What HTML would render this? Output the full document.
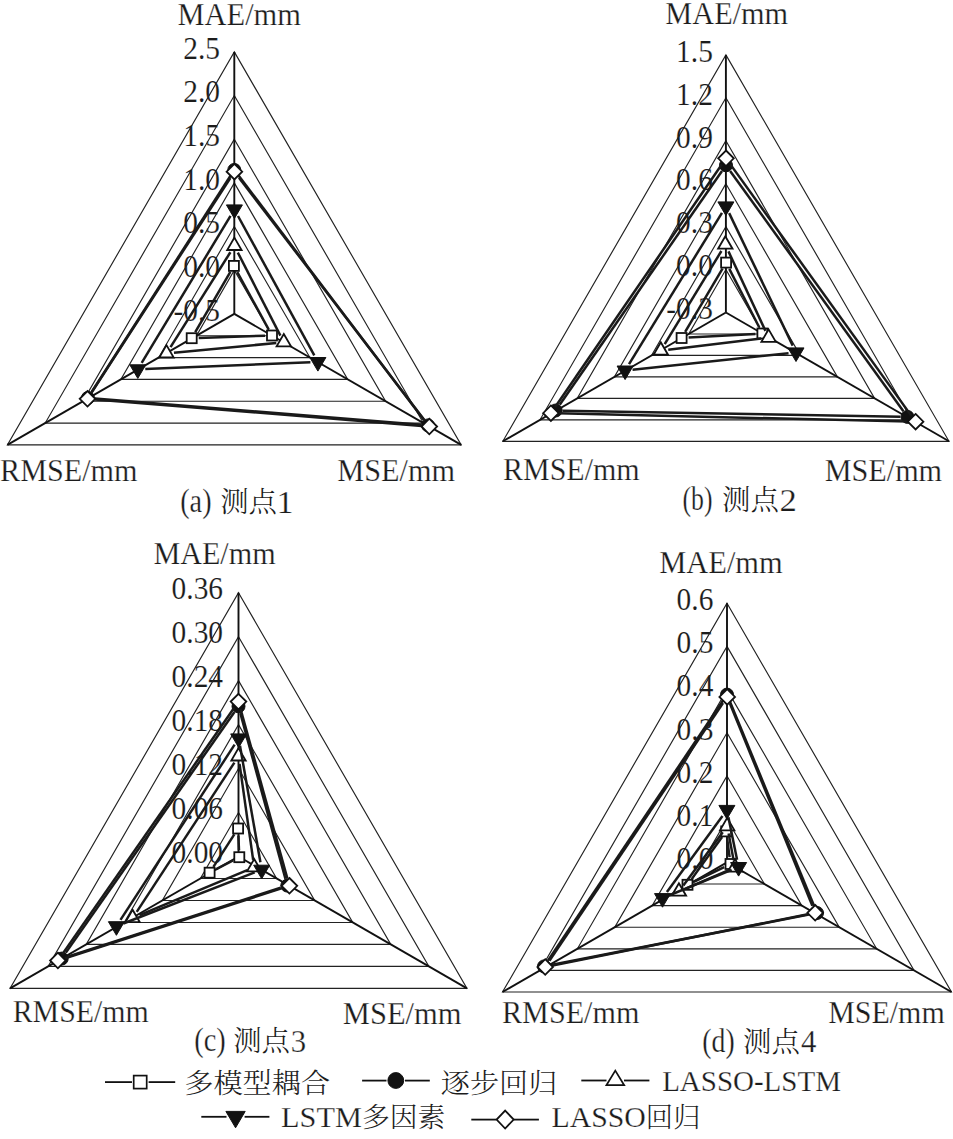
<!DOCTYPE html>
<html><head><meta charset="utf-8"><style>
html,body{margin:0;padding:0;background:#fff;}
body{width:953px;height:1139px;overflow:hidden;}
svg{display:block;}
text{fill:#1c1c1c;stroke:#fff;stroke-width:0.25px;}
.grid{fill:none;stroke:#222;stroke-width:1.15;stroke-linejoin:miter;}
.spoke{stroke:#111;stroke-width:1.9;}
.ser{fill:none;stroke:#1a1a1a;stroke-width:2.5;stroke-linecap:butt;}
.lser{stroke:#111;stroke-width:1.8;}
.mo{fill:#fff;stroke:#111;stroke-width:1.8;}
.mf{fill:#111;stroke:#111;stroke-width:1;}
.lt{font-family:"Liberation Serif",serif;font-size:32px;}
.tk{stroke-width:0.15px;}
.cl{font-family:"Liberation Serif",serif;font-size:31px;}
.cp{font-family:"Liberation Serif",serif;font-size:33.5px;}
.cc{font-family:"Liberation Serif","Noto Serif CJK SC",serif;font-size:28px;stroke:none;font-weight:300;}
.gl{font-family:"Liberation Serif",serif;font-size:30px;}
.gc{font-family:"Liberation Serif","Noto Serif CJK SC",serif;font-size:27.5px;stroke:none;font-weight:300;}
</style></head><body>
<svg width="953" height="1139" viewBox="0 0 953 1139">
<rect width="953" height="1139" fill="#fff"/>
<text x="220.1" y="320.7" class="lt tk" text-anchor="end" transform="translate(220.1,0) scale(0.92,1) translate(-220.1,0)">-0.5</text>
<text x="220.1" y="277.03" class="lt tk" text-anchor="end" transform="translate(220.1,0) scale(0.92,1) translate(-220.1,0)">0.0</text>
<text x="220.1" y="233.37" class="lt tk" text-anchor="end" transform="translate(220.1,0) scale(0.92,1) translate(-220.1,0)">0.5</text>
<text x="220.1" y="189.7" class="lt tk" text-anchor="end" transform="translate(220.1,0) scale(0.92,1) translate(-220.1,0)">1.0</text>
<text x="220.1" y="146.03" class="lt tk" text-anchor="end" transform="translate(220.1,0) scale(0.92,1) translate(-220.1,0)">1.5</text>
<text x="220.1" y="102.37" class="lt tk" text-anchor="end" transform="translate(220.1,0) scale(0.92,1) translate(-220.1,0)">2.0</text>
<text x="220.1" y="58.7" class="lt tk" text-anchor="end" transform="translate(220.1,0) scale(0.92,1) translate(-220.1,0)">2.5</text>
<polygon points="234.3,270.23 272.12,335.73 196.48,335.73" class="grid"/>
<polygon points="234.3,226.57 309.93,357.57 158.67,357.57" class="grid"/>
<polygon points="234.3,182.9 347.75,379.4 120.85,379.4" class="grid"/>
<polygon points="234.3,139.23 385.57,401.23 83.03,401.23" class="grid"/>
<polygon points="234.3,95.57 423.38,423.07 45.22,423.07" class="grid"/>
<polygon points="234.3,51.9 461.2,444.9 7.4,444.9" class="grid"/>
<line x1="234.3" y1="313.9" x2="234.3" y2="51.9" class="spoke"/>
<line x1="234.3" y1="313.9" x2="461.2" y2="444.9" class="spoke"/>
<line x1="234.3" y1="313.9" x2="7.4" y2="444.9" class="spoke"/>
<line x1="237.26" y1="272.04" x2="268.64" y2="329.36" class="ser"/>
<line x1="265" y1="335.74" x2="198.7" y2="337.96" class="ser"/>
<line x1="195.23" y1="332.15" x2="230.37" y2="271.95" class="ser"/>
<rect x="228.9" y="260.9" width="10" height="10" class="mo"/>
<rect x="267" y="330.5" width="10" height="10" class="mo"/>
<rect x="186.7" y="333.2" width="10" height="10" class="mo"/>
<line x1="238.53" y1="175.48" x2="423.77" y2="419.82" class="ser"/>
<line x1="421.02" y1="424.84" x2="94.88" y2="398.46" class="ser"/>
<line x1="91.68" y1="392.01" x2="230.52" y2="175.79" class="ser"/>
<circle cx="234.3" cy="169.9" r="6.5" class="mf"/>
<circle cx="428" cy="425.4" r="6.5" class="mf"/>
<circle cx="87.9" cy="397.9" r="6.5" class="mf"/>
<line x1="237.82" y1="252.57" x2="280.38" y2="335.63" class="ser"/>
<line x1="276.33" y1="343.01" x2="173.97" y2="352.69" class="ser"/>
<line x1="170.51" y1="347.06" x2="230.39" y2="252.24" class="ser"/>
<polygon points="234.4,237.6 241.6,250 227.2,250" class="mo"/>
<polygon points="283.8,334 291,346.4 276.6,346.4" class="mo"/>
<polygon points="166.5,345.1 173.7,357.5 159.3,357.5" class="mo"/>
<line x1="238" y1="215.98" x2="314.3" y2="355.42" class="ser"/>
<line x1="310.41" y1="362.3" x2="145.29" y2="369" class="ser"/>
<line x1="141.68" y1="362.88" x2="230.52" y2="215.82" class="ser"/>
<polygon points="226.4,204.9 242.4,204.9 234.4,218.5" class="mf"/>
<polygon points="309.9,357.5 325.9,357.5 317.9,371.1" class="mf"/>
<polygon points="129.8,364.8 145.8,364.8 137.8,378.4" class="mf"/>
<line x1="238.96" y1="177.66" x2="424.74" y2="420.54" class="ser"/>
<line x1="421.82" y1="425.89" x2="94.98" y2="399.41" class="ser"/>
<line x1="91.57" y1="392.5" x2="230.33" y2="178" class="ser"/>
<polygon points="234.4,163.9 242.2,171.7 234.4,179.5 226.6,171.7" class="mo"/>
<polygon points="429.3,418.7 437.1,426.5 429.3,434.3 421.5,426.5" class="mo"/>
<polygon points="87.5,391 95.3,398.8 87.5,406.6 79.7,398.8" class="mo"/>
<text x="712.9" y="319.3" class="lt tk" text-anchor="end" transform="translate(712.9,0) scale(0.92,1) translate(-712.9,0)">-0.3</text>
<text x="712.9" y="276.37" class="lt tk" text-anchor="end" transform="translate(712.9,0) scale(0.92,1) translate(-712.9,0)">0.0</text>
<text x="712.9" y="233.43" class="lt tk" text-anchor="end" transform="translate(712.9,0) scale(0.92,1) translate(-712.9,0)">0.3</text>
<text x="712.9" y="190.5" class="lt tk" text-anchor="end" transform="translate(712.9,0) scale(0.92,1) translate(-712.9,0)">0.6</text>
<text x="712.9" y="147.57" class="lt tk" text-anchor="end" transform="translate(712.9,0) scale(0.92,1) translate(-712.9,0)">0.9</text>
<text x="712.9" y="104.63" class="lt tk" text-anchor="end" transform="translate(712.9,0) scale(0.92,1) translate(-712.9,0)">1.2</text>
<text x="712.9" y="61.7" class="lt tk" text-anchor="end" transform="translate(712.9,0) scale(0.92,1) translate(-712.9,0)">1.5</text>
<polygon points="725.9,269.57 763.08,333.97 688.72,333.97" class="grid"/>
<polygon points="725.9,226.63 800.26,355.43 651.54,355.43" class="grid"/>
<polygon points="725.9,183.7 837.44,376.9 614.36,376.9" class="grid"/>
<polygon points="725.9,140.77 874.63,398.37 577.17,398.37" class="grid"/>
<polygon points="725.9,97.83 911.81,419.83 539.99,419.83" class="grid"/>
<polygon points="725.9,54.9 948.99,441.3 502.81,441.3" class="grid"/>
<line x1="725.9" y1="312.5" x2="725.9" y2="54.9" class="spoke"/>
<line x1="725.9" y1="312.5" x2="948.99" y2="441.3" class="spoke"/>
<line x1="725.9" y1="312.5" x2="502.81" y2="441.3" class="spoke"/>
<line x1="729.29" y1="268.83" x2="759.21" y2="327.27" class="ser"/>
<line x1="755.41" y1="333.89" x2="688.59" y2="337.61" class="ser"/>
<line x1="685.16" y1="331.97" x2="722.54" y2="268.63" class="ser"/>
<rect x="721.1" y="257.6" width="10" height="10" class="mo"/>
<rect x="757.4" y="328.5" width="10" height="10" class="mo"/>
<rect x="676.6" y="333" width="10" height="10" class="mo"/>
<line x1="730.1" y1="170.98" x2="903.4" y2="411.22" class="ser"/>
<line x1="900.5" y1="416.77" x2="562.7" y2="410.63" class="ser"/>
<line x1="559.69" y1="404.75" x2="722.01" y2="171.05" class="ser"/>
<circle cx="726" cy="165.3" r="6.5" class="mf"/>
<circle cx="907.5" cy="416.9" r="6.5" class="mf"/>
<circle cx="555.7" cy="410.5" r="6.5" class="mf"/>
<line x1="728.46" y1="251.4" x2="765.44" y2="330.9" class="ser"/>
<line x1="761.15" y1="338.59" x2="668.25" y2="349.71" class="ser"/>
<line x1="664.7" y1="344.19" x2="721.4" y2="251.01" class="ser"/>
<polygon points="725.3,236.3 732.5,248.7 718.1,248.7" class="mo"/>
<polygon points="768.6,329.4 775.8,341.8 761.4,341.8" class="mo"/>
<polygon points="660.8,342.3 668,354.7 653.6,354.7" class="mo"/>
<line x1="729.15" y1="213.16" x2="792.75" y2="345.64" class="ser"/>
<line x1="788.54" y1="353.19" x2="632.56" y2="369.71" class="ser"/>
<line x1="629.03" y1="364.11" x2="721.97" y2="212.79" class="ser"/>
<polygon points="717.9,201.9 733.9,201.9 725.9,215.5" class="mf"/>
<polygon points="788,347.9 804,347.9 796,361.5" class="mf"/>
<polygon points="617.1,366 633.1,366 625.1,379.6" class="mf"/>
<line x1="730.38" y1="164.39" x2="911.22" y2="415.61" class="ser"/>
<line x1="908.1" y1="421.53" x2="558.4" y2="413.37" class="ser"/>
<line x1="555.15" y1="407.02" x2="721.75" y2="164.48" class="ser"/>
<polygon points="726,150.5 733.8,158.3 726,166.1 718.2,158.3" class="mo"/>
<polygon points="915.6,413.9 923.4,421.7 915.6,429.5 907.8,421.7" class="mo"/>
<polygon points="550.9,405.4 558.7,413.2 550.9,421 543.1,413.2" class="mo"/>
<text x="223.1" y="863.3" class="lt tk" text-anchor="end" transform="translate(223.1,0) scale(0.92,1) translate(-223.1,0)">0.00</text>
<text x="223.1" y="819.33" class="lt tk" text-anchor="end" transform="translate(223.1,0) scale(0.92,1) translate(-223.1,0)">0.06</text>
<text x="223.1" y="775.37" class="lt tk" text-anchor="end" transform="translate(223.1,0) scale(0.92,1) translate(-223.1,0)">0.12</text>
<text x="223.1" y="731.4" class="lt tk" text-anchor="end" transform="translate(223.1,0) scale(0.92,1) translate(-223.1,0)">0.18</text>
<text x="223.1" y="687.43" class="lt tk" text-anchor="end" transform="translate(223.1,0) scale(0.92,1) translate(-223.1,0)">0.24</text>
<text x="223.1" y="643.47" class="lt tk" text-anchor="end" transform="translate(223.1,0) scale(0.92,1) translate(-223.1,0)">0.30</text>
<text x="223.1" y="599.5" class="lt tk" text-anchor="end" transform="translate(223.1,0) scale(0.92,1) translate(-223.1,0)">0.36</text>
<polygon points="238.5,812.53 276.58,878.48 200.42,878.48" class="grid"/>
<polygon points="238.5,768.57 314.65,900.47 162.35,900.47" class="grid"/>
<polygon points="238.5,724.6 352.73,922.45 124.27,922.45" class="grid"/>
<polygon points="238.5,680.63 390.81,944.43 86.19,944.43" class="grid"/>
<polygon points="238.5,636.67 428.88,966.42 48.12,966.42" class="grid"/>
<polygon points="238.5,592.7 466.96,988.4 10.04,988.4" class="grid"/>
<line x1="238.5" y1="856.5" x2="238.5" y2="592.7" class="spoke"/>
<line x1="238.5" y1="856.5" x2="466.96" y2="988.4" class="spoke"/>
<line x1="238.5" y1="856.5" x2="10.04" y2="988.4" class="spoke"/>
<line x1="238.39" y1="835.49" x2="239.01" y2="850.21" class="ser"/>
<line x1="233.09" y1="860.44" x2="215.81" y2="869.46" class="ser"/>
<line x1="213.39" y1="866.82" x2="234.31" y2="834.38" class="ser"/>
<rect x="233.1" y="823.5" width="10" height="10" class="mo"/>
<rect x="234.3" y="852.2" width="10" height="10" class="mo"/>
<rect x="204.6" y="867.7" width="10" height="10" class="mo"/>
<line x1="240.34" y1="713.05" x2="285.46" y2="878.85" class="ser"/>
<line x1="280.64" y1="887.76" x2="68.36" y2="956.44" class="ser"/>
<line x1="65.72" y1="952.87" x2="234.48" y2="712.03" class="ser"/>
<circle cx="238.5" cy="706.3" r="6.5" class="mf"/>
<circle cx="287.3" cy="885.6" r="6.5" class="mf"/>
<circle cx="61.7" cy="958.6" r="6.5" class="mf"/>
<line x1="239.55" y1="763.83" x2="253.15" y2="859.87" class="ser"/>
<line x1="247.28" y1="870.19" x2="139.52" y2="915.21" class="ser"/>
<line x1="136.71" y1="911.83" x2="234.39" y2="762.67" class="ser"/>
<polygon points="238.5,748.1 245.7,760.5 231.3,760.5" class="mo"/>
<polygon points="254.2,859 261.4,871.4 247,871.4" class="mo"/>
<polygon points="132.6,909.8 139.8,922.2 125.4,922.2" class="mo"/>
<line x1="239.99" y1="745.79" x2="260.41" y2="862.31" class="ser"/>
<line x1="254.71" y1="872.42" x2="123.39" y2="923.48" class="ser"/>
<line x1="120.49" y1="919.92" x2="234.61" y2="744.68" class="ser"/>
<polygon points="230.7,733.9 246.7,733.9 238.7,747.5" class="mf"/>
<polygon points="253.7,865.2 269.7,865.2 261.7,878.8" class="mf"/>
<polygon points="108.4,921.7 124.4,921.7 116.4,935.3" class="mf"/>
<line x1="240.5" y1="708.83" x2="287.4" y2="878.57" class="ser"/>
<line x1="282.26" y1="888.1" x2="65.04" y2="958.2" class="ser"/>
<line x1="62.19" y1="954.35" x2="234.21" y2="707.75" class="ser"/>
<polygon points="238.5,693.8 246.3,701.6 238.5,709.4 230.7,701.6" class="mo"/>
<polygon points="289.4,878 297.2,885.8 289.4,893.6 281.6,885.8" class="mo"/>
<polygon points="57.9,952.7 65.7,960.5 57.9,968.3 50.1,960.5" class="mo"/>
<text x="713.4" y="869.2" class="lt tk" text-anchor="end" transform="translate(713.4,0) scale(0.92,1) translate(-713.4,0)">0.0</text>
<text x="713.4" y="826" class="lt tk" text-anchor="end" transform="translate(713.4,0) scale(0.92,1) translate(-713.4,0)">0.1</text>
<text x="713.4" y="782.8" class="lt tk" text-anchor="end" transform="translate(713.4,0) scale(0.92,1) translate(-713.4,0)">0.2</text>
<text x="713.4" y="739.6" class="lt tk" text-anchor="end" transform="translate(713.4,0) scale(0.92,1) translate(-713.4,0)">0.3</text>
<text x="713.4" y="696.4" class="lt tk" text-anchor="end" transform="translate(713.4,0) scale(0.92,1) translate(-713.4,0)">0.4</text>
<text x="713.4" y="653.2" class="lt tk" text-anchor="end" transform="translate(713.4,0) scale(0.92,1) translate(-713.4,0)">0.5</text>
<text x="713.4" y="610" class="lt tk" text-anchor="end" transform="translate(713.4,0) scale(0.92,1) translate(-713.4,0)">0.6</text>
<polygon points="727,819.2 764.41,884 689.59,884" class="grid"/>
<polygon points="727,776 801.82,905.6 652.18,905.6" class="grid"/>
<polygon points="727,732.8 839.24,927.2 614.76,927.2" class="grid"/>
<polygon points="727,689.6 876.65,948.8 577.35,948.8" class="grid"/>
<polygon points="727,646.4 914.06,970.4 539.94,970.4" class="grid"/>
<polygon points="727,603.2 951.47,992 502.53,992" class="grid"/>
<line x1="727" y1="862.4" x2="727" y2="603.2" class="spoke"/>
<line x1="727" y1="862.4" x2="951.47" y2="992" class="spoke"/>
<line x1="727" y1="862.4" x2="502.53" y2="992" class="spoke"/>
<line x1="727.12" y1="838.34" x2="729.58" y2="857.06" class="ser"/>
<line x1="724.2" y1="867.05" x2="693.8" y2="881.75" class="ser"/>
<line x1="691.61" y1="879.13" x2="722.09" y2="837.07" class="ser"/>
<rect x="721.2" y="826.4" width="10" height="10" class="mo"/>
<rect x="725.5" y="859" width="10" height="10" class="mo"/>
<rect x="682.5" y="879.8" width="10" height="10" class="mo"/>
<line x1="729.67" y1="701.07" x2="814.33" y2="906.53" class="ser"/>
<line x1="810.13" y1="914.34" x2="550.87" y2="965.06" class="ser"/>
<line x1="547.91" y1="960.59" x2="723.09" y2="700.41" class="ser"/>
<circle cx="727" cy="694.6" r="6.5" class="mf"/>
<circle cx="817" cy="913" r="6.5" class="mf"/>
<circle cx="544" cy="966.4" r="6.5" class="mf"/>
<line x1="728.59" y1="833.57" x2="733.61" y2="860.13" class="ser"/>
<line x1="728.11" y1="870.46" x2="685.79" y2="888.64" class="ser"/>
<line x1="683.36" y1="885.57" x2="722.74" y2="832.23" class="ser"/>
<polygon points="727.2,817.9 734.4,830.3 720,830.3" class="mo"/>
<polygon points="735,859.2 742.2,871.6 727.8,871.6" class="mo"/>
<polygon points="678.9,883.3 686.1,895.7 671.7,895.7" class="mo"/>
<line x1="728.41" y1="817.25" x2="737.09" y2="859.65" class="ser"/>
<line x1="731.66" y1="869.84" x2="669.44" y2="895.26" class="ser"/>
<line x1="666.92" y1="892.04" x2="722.48" y2="815.96" class="ser"/>
<polygon points="718.9,805.4 734.9,805.4 726.9,819" class="mf"/>
<polygon points="730.6,862.5 746.6,862.5 738.6,876.1" class="mf"/>
<polygon points="654.5,893.6 670.5,893.6 662.5,907.2" class="mf"/>
<line x1="730.03" y1="703.85" x2="812.37" y2="905.85" class="ser"/>
<line x1="807.85" y1="914.28" x2="552.55" y2="965.52" class="ser"/>
<line x1="549.39" y1="960.78" x2="723.01" y2="703.12" class="ser"/>
<polygon points="727.2,689.1 735,696.9 727.2,704.7 719.4,696.9" class="mo"/>
<polygon points="815.2,905 823,912.8 815.2,920.6 807.4,912.8" class="mo"/>
<polygon points="545.2,959.2 553,967 545.2,974.8 537.4,967" class="mo"/>
<line x1="105" y1="1082.1" x2="132" y2="1082.1" class="lser"/>
<line x1="148.6" y1="1082.1" x2="175.2" y2="1082.1" class="lser"/>
<rect x="133.7" y="1075.6" width="13" height="13" class="mo" style="stroke-width:1.7"/>
<line x1="362.1" y1="1080.6" x2="386.5" y2="1080.6" class="lser"/>
<line x1="405" y1="1080.6" x2="429.8" y2="1080.6" class="lser"/>
<circle cx="395.8" cy="1080.5" r="7.9" class="mf"/>
<line x1="581.3" y1="1080.5" x2="606.5" y2="1080.5" class="lser"/>
<line x1="624" y1="1080.5" x2="649.4" y2="1080.5" class="lser"/>
<polygon points="615.3,1070.6 624.2,1085.2 606.4,1085.2" class="mo" style="stroke-width:1.7"/>
<line x1="201.3" y1="1116.8" x2="226.5" y2="1116.8" class="lser"/>
<line x1="244.6" y1="1116.8" x2="269.4" y2="1116.8" class="lser"/>
<polygon points="225.9,1111.4 245.2,1111.4 235.55,1127.8" class="mf"/>
<line x1="471.3" y1="1119.6" x2="496.5" y2="1119.6" class="lser"/>
<line x1="513.8" y1="1119.6" x2="538.9" y2="1119.6" class="lser"/>
<polygon points="505.15,1110.6 513.7,1119.55 505.15,1128.5 496.6,1119.55" class="mo" style="stroke-width:1.8"/>
<text x="177.44" y="25" textLength="123.55" lengthAdjust="spacingAndGlyphs"><tspan class="lt">MAE/mm</tspan></text>
<text x="0.06" y="480.7" textLength="137.39" lengthAdjust="spacingAndGlyphs"><tspan class="lt">RMSE/mm</tspan></text>
<text x="337.29" y="480.7" textLength="117.67" lengthAdjust="spacingAndGlyphs"><tspan class="lt">MSE/mm</tspan></text>
<text x="665.37" y="23.5" textLength="122.79" lengthAdjust="spacingAndGlyphs"><tspan class="lt">MAE/mm</tspan></text>
<text x="502.98" y="480.2" textLength="136.67" lengthAdjust="spacingAndGlyphs"><tspan class="lt">RMSE/mm</tspan></text>
<text x="824.63" y="481.2" textLength="117.49" lengthAdjust="spacingAndGlyphs"><tspan class="lt">MSE/mm</tspan></text>
<text x="153.38" y="563.6" textLength="122.26" lengthAdjust="spacingAndGlyphs"><tspan class="lt">MAE/mm</tspan></text>
<text x="12.67" y="1021.5" textLength="136.17" lengthAdjust="spacingAndGlyphs"><tspan class="lt">RMSE/mm</tspan></text>
<text x="342.76" y="1024.3" textLength="118.8" lengthAdjust="spacingAndGlyphs"><tspan class="lt">MSE/mm</tspan></text>
<text x="659.24" y="572.7" textLength="123.48" lengthAdjust="spacingAndGlyphs"><tspan class="lt">MAE/mm</tspan></text>
<text x="502.03" y="1023" textLength="137.3" lengthAdjust="spacingAndGlyphs"><tspan class="lt">RMSE/mm</tspan></text>
<text x="828.16" y="1023.1" textLength="116.6" lengthAdjust="spacingAndGlyphs"><tspan class="lt">MSE/mm</tspan></text>
<text x="180.19" y="512.3" textLength="31.35" lengthAdjust="spacingAndGlyphs"><tspan class="cp">(a)</tspan></text>
<text x="220.21" y="512.4" textLength="56.78" lengthAdjust="spacingAndGlyphs"><tspan class="cc">测点</tspan></text>
<text x="276.4" y="512.8" textLength="17.08" lengthAdjust="spacingAndGlyphs"><tspan class="cl">1</tspan></text>
<text x="682.5" y="510.2" textLength="29.98" lengthAdjust="spacingAndGlyphs"><tspan class="cp">(b)</tspan></text>
<text x="722.11" y="510" textLength="56.91" lengthAdjust="spacingAndGlyphs"><tspan class="cc">测点</tspan></text>
<text x="779.52" y="510.6" textLength="17.31" lengthAdjust="spacingAndGlyphs"><tspan class="cl">2</tspan></text>
<text x="194.28" y="1050.5" textLength="31.47" lengthAdjust="spacingAndGlyphs"><tspan class="cp">(c)</tspan></text>
<text x="233.21" y="1051.1" textLength="56.78" lengthAdjust="spacingAndGlyphs"><tspan class="cc">测点</tspan></text>
<text x="290.83" y="1052.1" textLength="15.38" lengthAdjust="spacingAndGlyphs"><tspan class="cl">3</tspan></text>
<text x="702.33" y="1052.3" textLength="32.31" lengthAdjust="spacingAndGlyphs"><tspan class="cp">(d)</tspan></text>
<text x="743.11" y="1052.4" textLength="56.91" lengthAdjust="spacingAndGlyphs"><tspan class="cc">测点</tspan></text>
<text x="800.97" y="1052.3" textLength="15.4" lengthAdjust="spacingAndGlyphs"><tspan class="cl">4</tspan></text>
<text x="184.25" y="1092.5" textLength="145.91" lengthAdjust="spacingAndGlyphs"><tspan class="gc">多模型耦合</tspan></text>
<text x="440.85" y="1092.5" textLength="116.5" lengthAdjust="spacingAndGlyphs"><tspan class="gc">逐步回归</tspan></text>
<text x="662.15" y="1090.8" textLength="178.81" lengthAdjust="spacingAndGlyphs"><tspan class="gl">LASSO-LSTM</tspan></text>
<text x="281.12" y="1127.3" textLength="164.11" lengthAdjust="spacingAndGlyphs"><tspan class="gl">LSTM</tspan><tspan class="gc">多因素</tspan></text>
<text x="551.44" y="1127.3" textLength="149.03" lengthAdjust="spacingAndGlyphs"><tspan class="gl">LASSO</tspan><tspan class="gc">回归</tspan></text>
</svg>
</body></html>
